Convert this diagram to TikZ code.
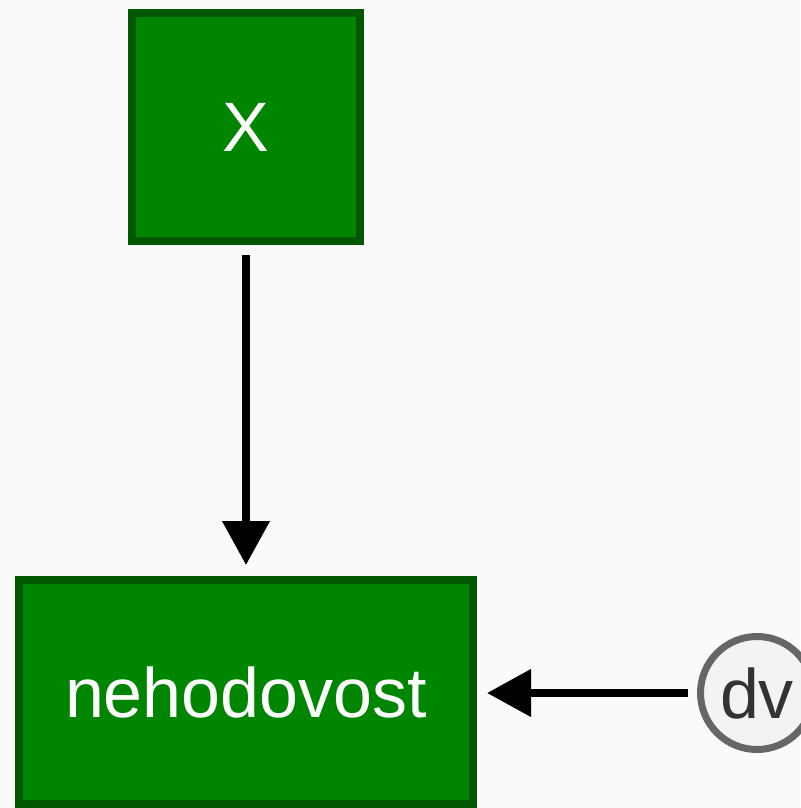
\documentclass[tikz,border=0pt]{standalone}
\usepackage{fontspec}
\setmainfont{Liberation Sans}
\usetikzlibrary{arrows.meta}
\definecolor{bg}{RGB}{250,250,250}
\definecolor{boxfill}{RGB}{0,133,0}
\definecolor{boxline}{RGB}{0,88,0}
\definecolor{ringline}{RGB}{102,102,102}
\definecolor{ringfill}{RGB}{243,243,243}
\definecolor{ringtext}{RGB}{51,51,51}
\tikzset{
  greenbox/.style={rectangle, draw=boxline, fill=boxfill, line width=8pt,
    inner sep=0pt, outer sep=0pt, text=white,
    font=\fontsize{70}{80}\selectfont},
  varcircle/.style={circle, draw=ringline, fill=ringfill, line width=7pt,
    inner sep=0pt, outer sep=0pt, minimum size=113pt, text=ringtext,
    font=\fontsize{70}{80}\selectfont},
  link/.style={line width=7.5pt, -{Triangle[length=44pt,width=46pt]}}
}
\begin{document}
\begin{tikzpicture}[x=1pt, y=-1pt]
  \fill[bg] (0,0) rectangle (800,808);
  \useasboundingbox (0,0) rectangle (800,808);

  \node[greenbox, minimum width=228pt, minimum height=228pt] (x) at (246,127) {\raisebox{-2pt}{X}};
  \node[greenbox, minimum width=454pt, minimum height=224pt] (n) at (246,692) {\raisebox{-3pt}{nehodovost}};
  \node[varcircle] (dv) at (757,693) {\raisebox{-2pt}{dv}};

  \draw[link, shorten <=14pt, shorten >=15pt] (x.south) -- (n.north);
  \draw[link, shorten <=13pt, shorten >=14pt] (dv.west) -- (dv.west -| n.east);
\end{tikzpicture}
\end{document}
